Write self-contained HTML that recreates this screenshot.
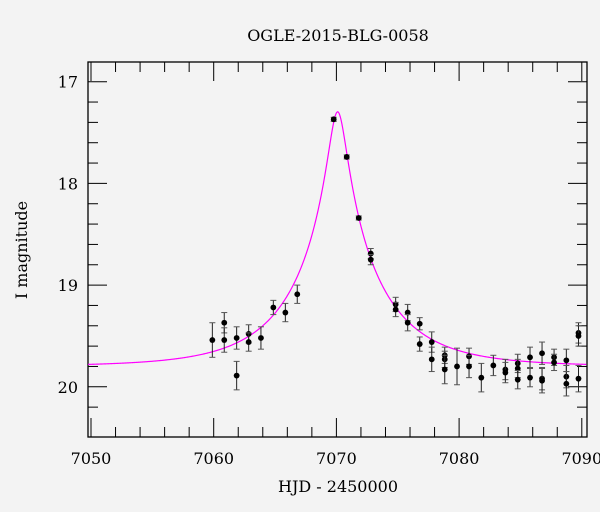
<!DOCTYPE html>
<html><head><meta charset="utf-8"><style>
html,body{margin:0;padding:0;background:#f3f3f3;}
svg{display:block;font-family:"DejaVu Serif","Liberation Serif",serif;}
</style></head><body>
<svg id="chart" width="600" height="512" viewBox="0 0 600 512">
<rect x="0" y="0" width="600" height="512" fill="#f3f3f3"/>
<text x="338" y="41" font-size="16" text-anchor="middle" fill="#000">OGLE-2015-BLG-0058</text>
<text x="338" y="492" font-size="16" text-anchor="middle" fill="#000">HJD - 2450000</text>
<text x="0" y="0" font-size="16" text-anchor="middle" fill="#000" transform="translate(27,250) rotate(-90)">I magnitude</text>
<g id="axes"></g>
<g id="model"></g>
<g id="points"></g>
</svg>
<script>
const days = [7059.89,7060.86,7060.86,7061.87,7061.87,7062.85,7062.85,7063.85,7064.86,7065.84,7066.81,7069.78,7070.84,7071.82,7072.8,7072.8,7074.83,7074.83,7075.81,7075.81,7076.79,7076.79,7077.77,7077.77,7078.83,7078.83,7078.83,7079.83,7080.81,7080.81,7081.81,7082.79,7083.77,7083.77,7084.78,7084.78,7084.78,7085.78,7085.78,7086.76,7086.76,7086.76,7087.74,7087.74,7088.74,7088.74,7088.74,7089.73,7089.73,7089.73];
const mags = [19.54,19.37,19.54,19.52,19.89,19.48,19.56,19.52,19.22,19.27,19.09,17.37,17.74,18.34,18.69,18.75,19.19,19.24,19.27,19.37,19.38,19.58,19.56,19.73,19.69,19.73,19.83,19.80,19.70,19.80,19.91,19.79,19.83,19.86,19.77,19.82,19.93,19.71,19.91,19.67,19.92,19.94,19.71,19.76,19.74,19.90,19.97,19.92,19.47,19.50];
const errs = [0.17,0.10,0.12,0.11,0.14,0.09,0.09,0.11,0.07,0.09,0.09,0.02,0.02,0.02,0.05,0.05,0.07,0.07,0.08,0.08,0.06,0.07,0.10,0.12,0.08,0.08,0.14,0.18,0.08,0.11,0.14,0.10,0.10,0.10,0.09,0.09,0.09,0.10,0.09,0.11,0.11,0.12,0.08,0.08,0.11,0.11,0.12,0.13,0.10,0.10];
const modelT0 = 7070.1, modelU0 = 0.1, modelTE = 7.0, modelBase = 19.80;
const xTicks = [7050,7060,7070,7080,7090];
const yTicks = [17,18,19,20];

const L=88,R=587,T=62,B=437;
function xs(d){return 91+(d-7050)*12.27;}
function ys(m){return 81.7+(m-17)*101.7;}
const NS="http://www.w3.org/2000/svg";
function mk(tag,attrs,parent){const e=document.createElementNS(NS,tag);for(const k in attrs)e.setAttribute(k,attrs[k]);parent.appendChild(e);return e;}
const axes=document.getElementById('axes');
const frame=mk('rect',{x:L,y:T,width:R-L,height:B-T,fill:'none',stroke:'#000','stroke-width':1.3},axes);


for(let d=7050;d<=7090;d+=2){
  const major=(d%10===0);const len=major?19:10;const x=xs(d);
  const t1=mk('line',{x1:x,y1:B,x2:x,y2:B-len,stroke:'#000','stroke-width':1},axes);
  
  
  const t2=mk('line',{x1:x,y1:T,x2:x,y2:T+len,stroke:'#000','stroke-width':1},axes);
  
  
}
xTicks.forEach(d=>{
  const t=mk('text',{x:xs(d),y:464,'font-size':16,'text-anchor':'middle'},axes);t.textContent=d;
  
  
});
for(let i=0;i<=17;i++){
  const m=16.8+i*0.2;const y=ys(m);if(y<T||y>B)continue;
  const major=Math.abs(m-Math.round(m))<1e-6;const len=major?19:10;
  const t1=mk('line',{x1:L,y1:y,x2:L+len,y2:y,stroke:'#000','stroke-width':1},axes);
  
  
  const t2=mk('line',{x1:R,y1:y,x2:R-len,y2:y,stroke:'#000','stroke-width':1},axes);
  
  
}
yTicks.forEach(m=>{
  const t=mk('text',{x:78,y:ys(m)+6,'font-size':16,'text-anchor':'end'},axes);t.textContent=m;
  
  
});
function magAt(t){const tau=(t-modelT0)/modelTE;const u=Math.sqrt(modelU0*modelU0+tau*tau);const A=(u*u+2)/(u*Math.sqrt(u*u+4));return modelBase-2.5*Math.log10(A);}
let dstr='';
for(let t=7049.76;t<=7090.4;t+=0.05){dstr+=(dstr?'L':'M')+xs(t).toFixed(2)+','+ys(magAt(t)).toFixed(2);}
const path=mk('path',{d:dstr,fill:'none',stroke:'#ff00ff','stroke-width':1.2},document.getElementById('model'));


const pg=document.getElementById('points');
days.forEach((d,i)=>{
  const x=xs(d),y=ys(mags[i]),e=errs[i]*101.7;
  const g=mk('g',{},pg);
  
  
  mk('line',{x1:x,y1:y-e,x2:x,y2:y+e,stroke:'#222','stroke-width':1},g);
  mk('line',{x1:x-3,y1:y-e,x2:x+3,y2:y-e,stroke:'#555','stroke-width':1},g);
  mk('line',{x1:x-3,y1:y+e,x2:x+3,y2:y+e,stroke:'#555','stroke-width':1},g);
  mk('circle',{cx:x,cy:y,r:2.9,fill:'#000'},g);
});
</script>
</body></html>
